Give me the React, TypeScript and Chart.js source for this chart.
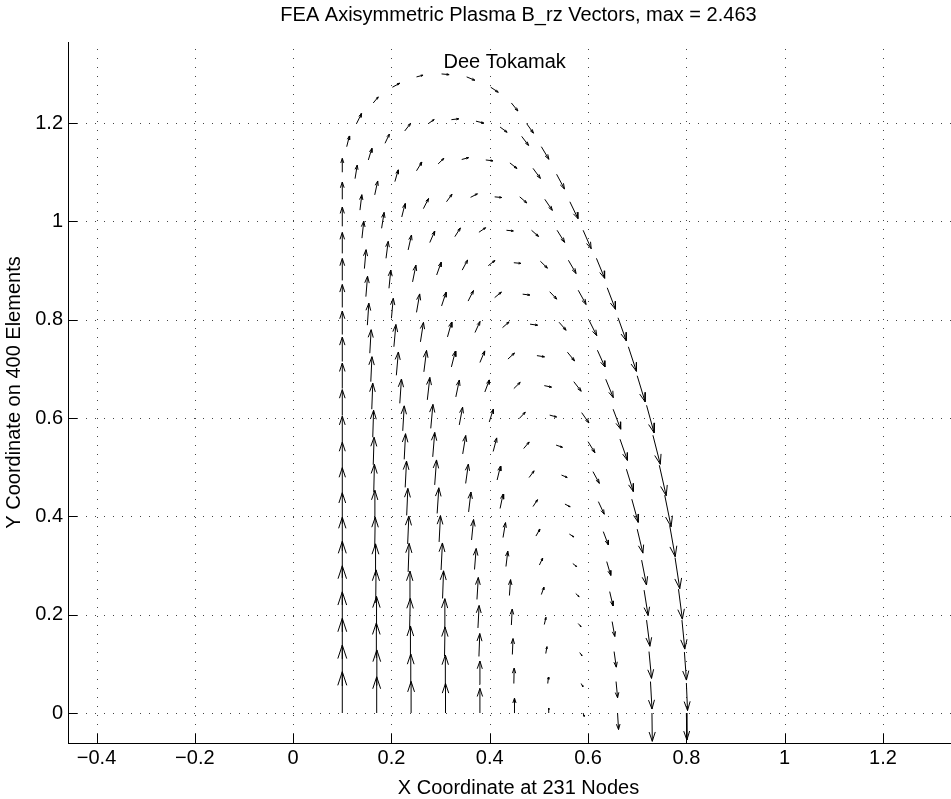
import { useEffect, useRef } from 'react';
import { Chart, registerables } from 'chart.js';

Chart.register(...registerables);

const TITLE = 'FEA Axisymmetric Plasma B_rz Vectors, max = 2.463';
const X_LABEL = 'X Coordinate at 231 Nodes';
const Y_LABEL = 'Y Coordinate on 400 Elements';
const NOTE = 'Dee Tokamak';
const NOTE_AT = [0.306, 1.324];

const xTicks = [-0.4, -0.2, 0, 0.2, 0.4, 0.6, 0.8, 1, 1.2];
const yTicks = [0, 0.2, 0.4, 0.6, 0.8, 1, 1.2];

// Mesh nodes, one array per mesh column (bottom row to top arc): [r, z, Br, Bz]
const col0 = [
  [0.1, 0, 0, 2.463], [0.1, 0.055, 0, 2.44], [0.1, 0.11, 0, 2.42], [0.1, 0.165, 0, 2.39],
  [0.1, 0.22, 0, 2.33], [0.1, 0.275, 0, 2.18], [0.1, 0.33, 0, 2.0], [0.1, 0.385, 0, 1.85],
  [0.1, 0.44, 0, 1.73], [0.1, 0.495, 0, 1.64], [0.1, 0.55, 0, 1.58], [0.1, 0.605, 0, 1.55],
  [0.1, 0.66, 0, 1.52], [0.1, 0.715, 0, 1.46], [0.1, 0.77, 0, 1.4], [0.1, 0.825, 0, 1.37],
  [0.1, 0.88, 0, 1.31], [0.1, 0.935, 0, 1.25], [0.1, 0.99, 0, 1.15], [0.1, 1.045, 0, 1.03],
  [0.1, 1.1, 0, 0.83],
];
const col1 = [
  [0.17, 0, 0, 2.16], [0.17, 0.056, 0.01, 2.12], [0.169, 0.112, 0.01, 2.09], [0.169, 0.168, 0.02, 2.03],
  [0.168, 0.224, 0.02, 1.97], [0.167, 0.28, 0.02, 1.88], [0.166, 0.337, 0.03, 1.79], [0.165, 0.394, 0.04, 1.73],
  [0.164, 0.449, 0.04, 1.67], [0.163, 0.505, 0.05, 1.64], [0.162, 0.561, 0.05, 1.61], [0.16, 0.618, 0.06, 1.55],
  [0.158, 0.674, 0.07, 1.49], [0.156, 0.732, 0.08, 1.4], [0.151, 0.789, 0.09, 1.31], [0.148, 0.847, 0.1, 1.22],
  [0.145, 0.904, 0.1, 1.13], [0.14, 0.966, 0.11, 1.01], [0.136, 1.023, 0.11, 0.92], [0.126, 1.087, 0.13, 0.81],
  [0.109, 1.152, 0.16, 0.64],
];
const col2 = [
  [0.24, 0, 0, 1.88], [0.239, 0.057, 0.01, 1.85], [0.238, 0.115, 0.02, 1.82], [0.237, 0.172, 0.04, 1.79],
  [0.236, 0.229, 0.05, 1.75], [0.234, 0.287, 0.06, 1.7], [0.233, 0.344, 0.07, 1.66], [0.231, 0.402, 0.07, 1.61],
  [0.228, 0.459, 0.08, 1.57], [0.226, 0.516, 0.08, 1.53], [0.223, 0.574, 0.09, 1.49], [0.217, 0.63, 0.1, 1.45],
  [0.21, 0.687, 0.12, 1.39], [0.205, 0.745, 0.12, 1.33], [0.2, 0.803, 0.11, 1.19], [0.195, 0.864, 0.11, 1.09],
  [0.189, 0.925, 0.13, 1.01], [0.18, 0.986, 0.15, 0.95], [0.166, 1.054, 0.18, 0.83], [0.153, 1.125, 0.21, 0.69],
  [0.129, 1.199, 0.3, 0.6],
];
const col3 = [
  [0.31, 0, 0, 1.77], [0.309, 0.058, 0.02, 1.76], [0.308, 0.116, 0.03, 1.73], [0.307, 0.175, 0.05, 1.69],
  [0.304, 0.233, 0.06, 1.65], [0.301, 0.291, 0.08, 1.61], [0.297, 0.348, 0.08, 1.57], [0.293, 0.406, 0.1, 1.53],
  [0.288, 0.464, 0.11, 1.49], [0.284, 0.521, 0.12, 1.46], [0.28, 0.579, 0.13, 1.43], [0.273, 0.637, 0.15, 1.34],
  [0.266, 0.694, 0.16, 1.28], [0.259, 0.755, 0.18, 1.16], [0.251, 0.815, 0.19, 1.1], [0.243, 0.877, 0.2, 1.0],
  [0.234, 0.942, 0.2, 0.89], [0.221, 1.009, 0.2, 0.8], [0.207, 1.081, 0.2, 0.7], [0.187, 1.159, 0.26, 0.55],
  [0.163, 1.241, 0.3, 0.36],
];
const col4 = [
  [0.38, 0, 0, 1.47], [0.379, 0.058, 0.03, 1.4], [0.378, 0.115, 0.05, 1.37], [0.376, 0.173, 0.07, 1.34],
  [0.374, 0.231, 0.08, 1.31], [0.369, 0.292, 0.1, 1.25], [0.363, 0.352, 0.12, 1.22], [0.357, 0.409, 0.14, 1.19],
  [0.351, 0.467, 0.16, 1.15], [0.345, 0.527, 0.18, 1.1], [0.338, 0.586, 0.2, 1.06], [0.331, 0.643, 0.21, 1.01],
  [0.322, 0.704, 0.24, 0.95], [0.314, 0.765, 0.25, 0.89], [0.302, 0.828, 0.27, 0.82], [0.292, 0.891, 0.27, 0.76],
  [0.278, 0.957, 0.3, 0.69], [0.265, 1.026, 0.31, 0.61], [0.251, 1.103, 0.32, 0.52], [0.227, 1.184, 0.35, 0.45],
  [0.202, 1.273, 0.44, 0.24],
];
const col5 = [
  [0.45, 0, 0.01, 0.89], [0.449, 0.06, 0.02, 0.92], [0.446, 0.119, 0.04, 0.95], [0.444, 0.179, 0.05, 0.95],
  [0.44, 0.239, 0.07, 0.95], [0.433, 0.298, 0.11, 0.92], [0.427, 0.357, 0.15, 0.89], [0.421, 0.416, 0.18, 0.86],
  [0.415, 0.474, 0.2, 0.83], [0.407, 0.532, 0.21, 0.81], [0.399, 0.592, 0.24, 0.76], [0.39, 0.653, 0.27, 0.72],
  [0.38, 0.713, 0.29, 0.69], [0.37, 0.774, 0.3, 0.66], [0.356, 0.838, 0.32, 0.63], [0.344, 0.901, 0.32, 0.6],
  [0.329, 0.969, 0.33, 0.52], [0.312, 1.04, 0.33, 0.45], [0.295, 1.117, 0.34, 0.33], [0.275, 1.199, 0.35, 0.24],
  [0.251, 1.294, 0.39, 0.1],
];
const col6 = [
  [0.52, 0, 0, 0.3], [0.518, 0.06, 0.04, 0.38], [0.514, 0.121, 0.07, 0.41], [0.511, 0.18, 0.1, 0.43],
  [0.505, 0.241, 0.15, 0.43], [0.501, 0.301, 0.2, 0.42], [0.494, 0.36, 0.24, 0.42], [0.488, 0.42, 0.27, 0.41],
  [0.48, 0.479, 0.3, 0.4], [0.469, 0.538, 0.33, 0.39], [0.46, 0.599, 0.36, 0.38], [0.449, 0.66, 0.38, 0.37],
  [0.437, 0.72, 0.39, 0.36], [0.426, 0.784, 0.39, 0.34], [0.41, 0.845, 0.4, 0.33], [0.397, 0.91, 0.4, 0.31],
  [0.378, 0.978, 0.4, 0.27], [0.361, 1.049, 0.41, 0.21], [0.343, 1.126, 0.41, 0.11], [0.322, 1.207, 0.44, 0.05],
  [0.302, 1.3, 0.45, -0.04],
];
const col7 = [
  [0.59, 0, 0.06, -0.2], [0.586, 0.06, 0.1, -0.19], [0.583, 0.123, 0.14, -0.19], [0.58, 0.182, 0.17, -0.19],
  [0.575, 0.243, 0.2, -0.19], [0.569, 0.304, 0.23, -0.18], [0.562, 0.364, 0.27, -0.17], [0.553, 0.425, 0.31, -0.16],
  [0.546, 0.484, 0.34, -0.14], [0.535, 0.545, 0.38, -0.13], [0.522, 0.606, 0.41, -0.11], [0.511, 0.666, 0.43, -0.09],
  [0.496, 0.727, 0.45, -0.07], [0.482, 0.791, 0.45, -0.06], [0.467, 0.852, 0.43, -0.05], [0.449, 0.916, 0.42, -0.04],
  [0.434, 0.982, 0.41, -0.04], [0.41, 1.05, 0.42, -0.04], [0.392, 1.125, 0.43, -0.05], [0.372, 1.204, 0.47, -0.12],
  [0.353, 1.294, 0.49, -0.2],
];
const col8 = [
  [0.66, 0, 0.06, -0.99], [0.657, 0.064, 0.09, -0.97], [0.653, 0.125, 0.13, -0.93], [0.649, 0.186, 0.16, -0.89],
  [0.644, 0.247, 0.2, -0.86], [0.638, 0.308, 0.24, -0.82], [0.631, 0.369, 0.3, -0.79], [0.621, 0.43, 0.35, -0.75],
  [0.61, 0.491, 0.38, -0.7], [0.6, 0.552, 0.41, -0.66], [0.587, 0.611, 0.43, -0.61], [0.571, 0.674, 0.44, -0.57],
  [0.558, 0.734, 0.43, -0.52], [0.541, 0.795, 0.42, -0.48], [0.522, 0.857, 0.42, -0.44], [0.503, 0.919, 0.42, -0.41],
  [0.485, 0.982, 0.42, -0.37], [0.461, 1.05, 0.42, -0.36], [0.441, 1.119, 0.42, -0.33], [0.421, 1.192, 0.42, -0.31],
  [0.402, 1.273, 0.45, -0.3],
];
const col9 = [
  [0.73, 0, 0.02, -1.69], [0.727, 0.064, 0.09, -1.64], [0.724, 0.125, 0.15, -1.6], [0.719, 0.189, 0.2, -1.56],
  [0.714, 0.25, 0.24, -1.52], [0.709, 0.311, 0.29, -1.48], [0.7, 0.374, 0.34, -1.43], [0.689, 0.435, 0.38, -1.38],
  [0.678, 0.496, 0.41, -1.33], [0.665, 0.557, 0.44, -1.26], [0.651, 0.618, 0.45, -1.19], [0.636, 0.679, 0.45, -1.1],
  [0.619, 0.738, 0.45, -1.0], [0.602, 0.799, 0.46, -0.92], [0.58, 0.86, 0.47, -0.85], [0.56, 0.921, 0.46, -0.79],
  [0.537, 0.982, 0.45, -0.72], [0.512, 1.045, 0.45, -0.66], [0.488, 1.108, 0.44, -0.6], [0.465, 1.173, 0.41, -0.54],
  [0.444, 1.241, 0.39, -0.48],
];
const col10 = [
  [0.8, 0, 0.03, -1.61], [0.8, 0.061, 0.07, -1.64], [0.796, 0.124, 0.12, -1.67], [0.791, 0.189, 0.17, -1.73],
  [0.784, 0.252, 0.23, -1.79], [0.777, 0.316, 0.28, -1.85], [0.766, 0.382, 0.33, -1.88], [0.756, 0.443, 0.38, -1.88],
  [0.745, 0.504, 0.41, -1.82], [0.732, 0.565, 0.44, -1.73], [0.719, 0.626, 0.45, -1.64], [0.7, 0.686, 0.47, -1.55],
  [0.682, 0.745, 0.48, -1.46], [0.661, 0.804, 0.49, -1.37], [0.639, 0.865, 0.49, -1.28], [0.617, 0.925, 0.49, -1.19],
  [0.59, 0.982, 0.48, -1.1], [0.563, 1.04, 0.48, -1.0], [0.536, 1.096, 0.47, -0.88], [0.505, 1.152, 0.45, -0.75],
  [0.475, 1.199, 0.41, -0.57],
];

const meshColumns = [col0, col1, col2, col3, col4, col5, col6, col7, col8, col9, col10];

// quiver styling
const ARROW_SCALE = 0.0341; // axis units per unit of |B|
const HEAD_LEN = 0.33;
const HEAD_SPREAD = 0.33;

const FONT_FAMILY = '"Liberation Sans", Arial, Helvetica, sans-serif';
const GRID_DASH = [1, 8];
const GRID_COLOR = '#444';
const TICK_LEN = 9;

const fmtTick = (v: number) => {
  const s = String(Math.round(v * 10) / 10);
  return v < 0 ? '\u2212' + s.slice(1) : s;
};

type Pt = { x: number; y: number | null };

// Each arrow becomes shaft + two barbs, separated by gaps in one polyline
function quiverPath(): Pt[] {
  const pts: Pt[] = [];
  for (const col of meshColumns) {
    for (const [r, z, br, bz] of col) {
      const u = br * ARROW_SCALE;
      const v = bz * ARROW_SCALE;
      const tx = r + u;
      const ty = z + v;
      pts.push({ x: r, y: z }, { x: tx, y: ty }, { x: tx, y: null });
      pts.push(
        { x: tx - HEAD_LEN * (u + HEAD_SPREAD * v), y: ty - HEAD_LEN * (v - HEAD_SPREAD * u) },
        { x: tx, y: ty },
        { x: tx - HEAD_LEN * (u - HEAD_SPREAD * v), y: ty - HEAD_LEN * (v + HEAD_SPREAD * u) },
        { x: tx, y: null },
      );
    }
  }
  return pts;
}

const axesDecor = {
  id: 'axesDecor',
  beforeDatasetsDraw(chart: any) {
    const { ctx, chartArea: a, scales } = chart;
    const xs = scales.x;
    const ys = scales.y;
    ctx.save();
    ctx.lineWidth = 1;
    ctx.strokeStyle = GRID_COLOR;
    ctx.setLineDash(GRID_DASH);
    for (const v of xTicks) {
      const px = Math.round(xs.getPixelForValue(v)) + 0.5;
      ctx.beginPath();
      ctx.moveTo(px, a.bottom);
      ctx.lineTo(px, a.top);
      ctx.stroke();
    }
    for (const v of yTicks) {
      const py = Math.round(ys.getPixelForValue(v)) + 0.5;
      ctx.beginPath();
      ctx.moveTo(a.left, py);
      ctx.lineTo(a.right, py);
      ctx.stroke();
    }
    ctx.setLineDash([]);
    ctx.strokeStyle = '#000';
    for (const v of xTicks) {
      const px = Math.round(xs.getPixelForValue(v)) + 0.5;
      ctx.beginPath();
      ctx.moveTo(px, a.bottom);
      ctx.lineTo(px, a.bottom - TICK_LEN);
      ctx.stroke();
    }
    for (const v of yTicks) {
      const py = Math.round(ys.getPixelForValue(v)) + 0.5;
      ctx.beginPath();
      ctx.moveTo(a.left, py);
      ctx.lineTo(a.left + TICK_LEN, py);
      ctx.stroke();
    }
    ctx.restore();
  },
  afterDatasetsDraw(chart: any) {
    const { ctx, scales } = chart;
    ctx.save();
    ctx.fillStyle = '#000';
    ctx.font = `20px ${FONT_FAMILY}`;
    ctx.textAlign = 'left';
    ctx.textBaseline = 'middle';
    ctx.fillText(NOTE, scales.x.getPixelForValue(NOTE_AT[0]), scales.y.getPixelForValue(NOTE_AT[1]));
    ctx.restore();
  },
};

export default function App() {
  const ref = useRef<HTMLCanvasElement>(null);

  useEffect(() => {
    const canvas = ref.current;
    if (!canvas) return;
    const font = { family: FONT_FAMILY, size: 20, weight: 'normal' as const, lineHeight: 1 };
    const chart = new Chart(canvas, {
      type: 'scatter',
      data: {
        datasets: [
          {
            data: quiverPath() as any,
            showLine: true,
            spanGaps: false,
            borderColor: '#000',
            borderWidth: 1,
            borderJoinStyle: 'round',
            pointRadius: 0,
            pointHoverRadius: 0,
            tension: 0,
          },
        ],
      },
      options: {
        animation: false,
        responsive: false,
        devicePixelRatio: 1,
        events: [],
        layout: { padding: 0 },
        plugins: {
          legend: { display: false },
          tooltip: { enabled: false },
          title: {
            display: true,
            text: TITLE,
            color: '#000',
            font,
            fullSize: false,
            padding: { top: 5, bottom: 17 },
          },
        },
        scales: {
          x: {
            type: 'linear',
            min: -0.458,
            max: 1.375,
            afterBuildTicks: (s: any) => {
              s.ticks = xTicks.map((v) => ({ value: v }));
            },
            afterFit: (s: any) => {
              s.height = 56;
              s.paddingLeft = 0;
              s.paddingRight = 0;
            },
            grid: { display: false, drawTicks: false },
            border: { display: true, color: '#000', width: 1 },
            ticks: {
              color: '#000',
              font,
              padding: 5,
              autoSkip: false,
              maxRotation: 0,
              callback: (v: any) => fmtTick(Number(v)),
            },
            title: {
              display: true,
              text: X_LABEL,
              color: '#000',
              font,
              padding: { top: 0, bottom: 1 },
            },
          },
          y: {
            type: 'linear',
            min: -0.061,
            max: 1.365,
            afterBuildTicks: (s: any) => {
              s.ticks = yTicks.map((v) => ({ value: v }));
            },
            afterFit: (s: any) => {
              s.width = 68;
              s.paddingTop = 0;
              s.paddingBottom = 0;
            },
            grid: { display: false, drawTicks: false },
            border: { display: true, color: '#000', width: 1 },
            ticks: {
              color: '#000',
              font,
              padding: 5,
              autoSkip: false,
              callback: (v: any) => fmtTick(Number(v)),
            },
            title: {
              display: true,
              text: Y_LABEL,
              color: '#000',
              font,
              padding: { top: 4, bottom: 0 },
            },
          },
        },
      },
      plugins: [axesDecor],
    });
    return () => chart.destroy();
  }, []);

  return (
    <div
      style={{
        position: 'fixed',
        left: 0,
        top: 0,
        width: 951,
        height: 799,
        overflow: 'hidden',
        background: '#fff',
      }}
    >
      <canvas ref={ref} width={969} height={799} style={{ display: 'block', width: 969, height: 799 }} />
    </div>
  );
}
